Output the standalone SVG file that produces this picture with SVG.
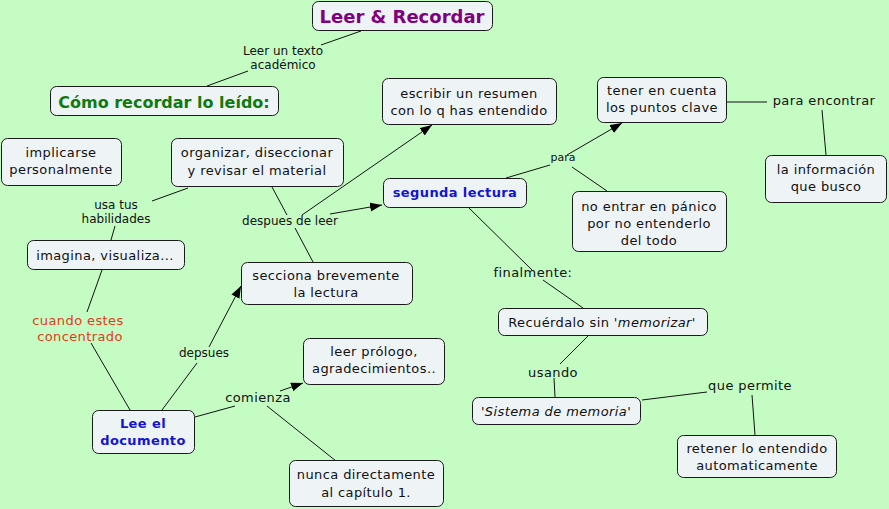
<svg xmlns="http://www.w3.org/2000/svg" width="889" height="509" viewBox="0 0 889 509">
<style>
.n rect{fill:#eef3f6;stroke:#1a1a1a;stroke-width:1}
text{font-family:"DejaVu Sans",Verdana,sans-serif;fill:#111;text-anchor:middle}
.t{font-size:13px;letter-spacing:0.4px}
.l{font-size:12px}
.s{font-size:11px}
.b{font-weight:bold}
.blue{fill:#1414d2}
#links line{stroke:#111;stroke-width:1}
.a{marker-end:url(#arr)}
</style>
<defs>
<marker id="arr" markerUnits="userSpaceOnUse" markerWidth="13" markerHeight="10" refX="12" refY="4.5" orient="auto">
<path d="M0,0 L12,4.5 L0,9 z" fill="#000"/>
</marker>
</defs>
<rect width="889" height="509" fill="#c4fcc4"/>
<g id="links">
<line x1="361" y1="31" x2="321" y2="45"/>
<line x1="248" y1="71" x2="207" y2="86"/>
<line x1="188" y1="188" x2="152" y2="201"/>
<line x1="115" y1="226" x2="111" y2="240"/>
<line x1="102" y1="270" x2="87" y2="312"/>
<line x1="91" y1="343" x2="130" y2="410"/>
<line x1="162" y1="410" x2="197" y2="363"/>
<line class="a" x1="209" y1="347" x2="241" y2="286"/>
<line x1="195" y1="417" x2="235" y2="406"/>
<line class="a" x1="280" y1="391" x2="303" y2="383"/>
<line x1="267" y1="406" x2="336" y2="461"/>
<line x1="272" y1="187" x2="287" y2="215"/>
<line x1="295" y1="228" x2="313" y2="262"/>
<line class="a" x1="302" y1="215" x2="432" y2="125"/>
<line class="a" x1="330" y1="214" x2="382" y2="205"/>
<line x1="506" y1="178" x2="550" y2="165"/>
<line class="a" x1="567" y1="155" x2="622" y2="123"/>
<line x1="572" y1="167" x2="607" y2="191"/>
<line x1="727" y1="102" x2="767" y2="102"/>
<line x1="822" y1="110" x2="826" y2="155"/>
<line x1="469" y1="208" x2="532" y2="270"/>
<line x1="543" y1="280" x2="583" y2="308"/>
<line x1="588" y1="336" x2="560" y2="364"/>
<line x1="554" y1="378" x2="555" y2="397"/>
<line x1="642" y1="400" x2="707" y2="392"/>
<line x1="752" y1="395" x2="755" y2="435"/>
</g>
<g id="labels">
<text class="l" x="283" y="55">Leer un texto</text>
<text class="l" x="283" y="69">académico</text>
<text class="l" x="116" y="209">usa tus</text>
<text class="l" x="116" y="223">habilidades</text>
<text class="l" x="290" y="225">despues de leer</text>
<text class="t" x="78" y="325" style="fill:#e23b1b">cuando estes</text>
<text class="t" x="80" y="341" style="fill:#e23b1b">concentrado</text>
<text class="l" x="204" y="357">depsues</text>
<text class="t" x="258" y="402">comienza</text>
<text class="s" x="563" y="161">para</text>
<text class="t" x="824" y="105">para encontrar</text>
<text class="t" x="533" y="277">finalmente:</text>
<text class="t" x="553" y="377">usando</text>
<text class="t" x="750" y="390">que permite</text>
</g>
<g id="n-title" class="n"><rect x="312.5" y="1.5" width="180" height="29" rx="6"/><text x="402" y="23" class="b" style="font-size:18px;fill:#800080">Leer &amp; Recordar</text></g>
<g id="n-como" class="n"><rect x="50.5" y="86.5" width="228" height="29" rx="6"/><text x="164" y="108" class="b" style="font-size:16px;fill:#0f7a0f">Cómo recordar lo leído:</text></g>
<g id="n-implicarse" class="n"><rect x="1.5" y="138.5" width="120" height="47" rx="6"/><text class="t" x="61" y="157">implicarse</text><text class="t" x="61" y="174">personalmente</text></g>
<g id="n-organizar" class="n"><rect x="171.5" y="138.5" width="172" height="48" rx="6"/><text class="t" x="257" y="157">organizar, diseccionar</text><text class="t" x="257" y="175">y revisar el material</text></g>
<g id="n-imagina" class="n"><rect x="27.5" y="240.5" width="157" height="29" rx="6"/><text class="t" x="105" y="260">imagina, visualiza...</text></g>
<g id="n-secciona" class="n"><rect x="241.5" y="262.5" width="171" height="42" rx="6"/><text class="t" x="326" y="280">secciona brevemente</text><text class="t" x="326" y="297">la lectura</text></g>
<g id="n-escribir" class="n"><rect x="382.5" y="78.5" width="174" height="46" rx="6"/><text class="t" x="469" y="98">escribir un resumen</text><text class="t" x="469" y="115">con lo q has entendido</text></g>
<g id="n-segunda" class="n"><rect x="383.5" y="178.5" width="143" height="29" rx="6"/><text class="t b blue" x="455" y="197">segunda lectura</text></g>
<g id="n-tener" class="n"><rect x="597.5" y="77.5" width="129" height="45" rx="6"/><text class="t" x="662" y="95">tener en cuenta</text><text class="t" x="662" y="112">los puntos clave</text></g>
<g id="n-info" class="n"><rect x="765.5" y="155.5" width="121" height="47" rx="6"/><text class="t" x="826" y="174">la información</text><text class="t" x="826" y="191">que busco</text></g>
<g id="n-panico" class="n"><rect x="572.5" y="191.5" width="154" height="60" rx="6"/><text class="t" x="649" y="211">no entrar en pánico</text><text class="t" x="649" y="228">por no entenderlo</text><text class="t" x="649" y="245">del todo</text></g>
<g id="n-recuerdalo" class="n"><rect x="498.5" y="308.5" width="209" height="27" rx="6"/><text class="t" x="602" y="327">Recuérdalo sin '<tspan font-style="italic">memorizar</tspan>'</text></g>
<g id="n-sistema" class="n"><rect x="472.5" y="397.5" width="168" height="27" rx="6"/><text class="t" x="556" y="416">'<tspan font-style="italic">Sistema de memoria</tspan>'</text></g>
<g id="n-retener" class="n"><rect x="677.5" y="435.5" width="159" height="42" rx="6"/><text class="t" x="757" y="453">retener lo entendido</text><text class="t" x="757" y="470">automaticamente</text></g>
<g id="n-lee" class="n"><rect x="92.5" y="410.5" width="102" height="43" rx="6"/><text class="t b blue" x="143" y="428">Lee el</text><text class="t b blue" x="143" y="445">documento</text></g>
<g id="n-prologo" class="n"><rect x="303.5" y="338.5" width="141" height="46" rx="6"/><text class="t" x="374" y="356">leer prólogo,</text><text class="t" x="374" y="373">agradecimientos..</text></g>
<g id="n-nunca" class="n"><rect x="289.5" y="460.5" width="154" height="46" rx="6"/><text class="t" x="366" y="479">nunca directamente</text><text class="t" x="366" y="497">al capítulo 1.</text></g>
</svg>
